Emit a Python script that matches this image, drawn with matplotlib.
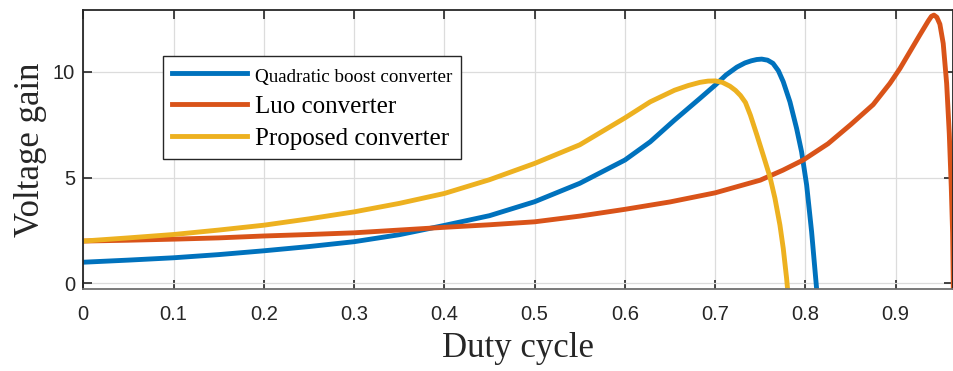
import numpy as np
import matplotlib
matplotlib.use("Agg")
import matplotlib.pyplot as plt

# Voltage gain versus duty cycle for the three converters
d_quadratic = [0.0, 0.05, 0.10, 0.15, 0.20, 0.25, 0.30, 0.35, 0.40, 0.45, 0.50,
               0.55, 0.60, 0.628, 0.655, 0.683, 0.70, 0.712, 0.724, 0.733, 0.74,
               0.746, 0.7515, 0.758, 0.764, 0.770, 0.7754, 0.7828, 0.7902,
               0.7957, 0.8013, 0.8068, 0.8124]
g_quadratic = [1.00, 1.10, 1.21, 1.36, 1.54, 1.74, 1.97, 2.30, 2.74, 3.20, 3.86,
               4.73, 5.83, 6.69, 7.72, 8.74, 9.37, 9.85, 10.22, 10.42, 10.52,
               10.58, 10.60, 10.55, 10.40, 10.05, 9.53, 8.58, 7.32,
               6.22, 4.65, 2.44, -0.28]

d_luo = [0.0, 0.05, 0.10, 0.15, 0.20, 0.25, 0.30, 0.35, 0.40, 0.45, 0.50, 0.55,
         0.60, 0.65, 0.70, 0.75, 0.775, 0.7975, 0.825, 0.85, 0.875, 0.8935, 0.9046,
         0.9157, 0.9268, 0.936, 0.9395, 0.9423, 0.9455, 0.9489, 0.9526, 0.9564,
         0.9593, 0.9615, 0.963, 0.9638]
g_luo = [2.00, 2.04, 2.09, 2.15, 2.24, 2.31, 2.39, 2.52, 2.65, 2.77, 2.91, 3.18,
         3.50, 3.85, 4.28, 4.88, 5.35, 5.83, 6.60, 7.50, 8.45, 9.45, 10.15,
         10.95, 11.75, 12.40, 12.62, 12.68, 12.58, 12.25, 11.34, 9.45,
         7.09, 4.57, 2.38, -0.28]

d_proposed = [0.0, 0.05, 0.10, 0.15, 0.20, 0.25, 0.30, 0.35, 0.40, 0.45, 0.50,
              0.55, 0.60, 0.628, 0.655, 0.67, 0.683, 0.692, 0.70, 0.708, 0.7163,
              0.7225, 0.728, 0.7335, 0.739, 0.7459, 0.7532, 0.7606, 0.7662,
              0.7717, 0.7754, 0.7791, 0.7802]
g_proposed = [2.00, 2.15, 2.31, 2.52, 2.75, 3.05, 3.38, 3.78, 4.25, 4.90, 5.67,
              6.55, 7.82, 8.58, 9.13, 9.35, 9.50, 9.56, 9.57, 9.50, 9.32,
              9.12, 8.88, 8.55, 7.95, 7.05, 6.06, 5.04, 4.02,
              2.76, 1.65, 0.24, -0.28]

labels = ['Quadratic boost converter', 'Luo converter', 'Proposed converter']
colors = ['#0072BD', '#D95319', '#EDB120']

x_ticks = [0, 0.1, 0.2, 0.3, 0.4, 0.5, 0.6, 0.7, 0.8, 0.9]
x_ticklabels = ['0', '0.1', '0.2', '0.3', '0.4', '0.5', '0.6', '0.7', '0.8', '0.9']
y_ticks = [0, 5, 10]

fig = plt.figure(figsize=(9.54, 3.71), dpi=100)
ax = fig.add_axes([0.0873, 0.2202, 0.9120, 0.7528])

ax.plot(d_quadratic, g_quadratic, color=colors[0], lw=3.5, label=labels[0])
ax.plot(d_luo, g_luo, color=colors[1], lw=3.5, label=labels[1])
ax.plot(d_proposed, g_proposed, color=colors[2], lw=3.5, label=labels[2])

ax.set_xlim(0, 0.9638)
ax.set_ylim(-0.28, 12.92)
ax.set_xticks(x_ticks)
ax.set_xticklabels(x_ticklabels)
ax.set_yticks(y_ticks)

ax.grid(True, color='#dcdcdc', lw=0.9)
ax.set_axisbelow(True)
ax.tick_params(direction='in', top=True, right=True, length=6.5, width=1.2,
               color='#262626', labelcolor='#262626', labelsize=14.5)
ax.tick_params(axis='x', pad=11)
ax.tick_params(axis='y', pad=6)
for name in ['left', 'top', 'right']:
    ax.spines[name].set_color('#262626')
    ax.spines[name].set_linewidth(1.3)
ax.spines['bottom'].set_color('#707070')
ax.spines['bottom'].set_linewidth(1.3)

for lbl in ax.get_xticklabels() + ax.get_yticklabels():
    lbl.set_family(['Liberation Sans', 'DejaVu Sans'])

ax.set_xlabel('Duty cycle', fontsize=25, family='Liberation Serif',
              color='#262626', labelpad=6)
ax.set_ylabel('Voltage gain', fontsize=25, family='Liberation Serif', color='#262626')

leg = ax.legend(loc='upper left', bbox_to_anchor=(0.092, 0.836), borderaxespad=0,
                prop={'family': 'Liberation Serif', 'size': 18},
                handlelength=3.0, handletextpad=0.3, borderpad=0.35,
                labelspacing=0.38, fancybox=False, framealpha=1)
leg.get_frame().set_edgecolor('#262626')
leg.get_frame().set_linewidth(1.0)
leg.get_texts()[0].set_fontsize(13.7)

fig.savefig('out.png', dpi=100)
